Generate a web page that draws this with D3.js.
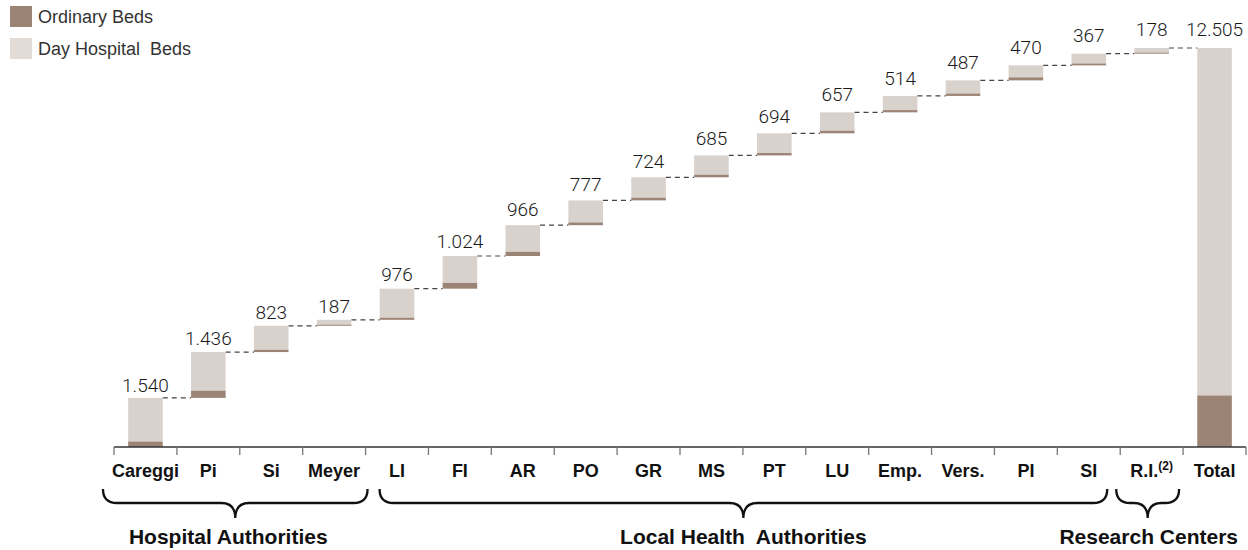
<!DOCTYPE html>
<html><head><meta charset="utf-8">
<script src="https://cdn.jsdelivr.net/npm/d3@7"></script>
<style>
html,body{margin:0;padding:0;background:#fff;}
svg{display:block;}
</style></head>
<body><svg id="c" width="1248" height="550"></svg>
<script>
const categories = ["Careggi","Pi","Si","Meyer","LI","FI","AR","PO","GR","MS","PT","LU","Emp.","Vers.","PI","SI","R.I.","Total"];
const totalLabels = ["1.540","1.436","823","187","976","1.024","966","777","724","685","694","657","514","487","470","367","178","12.505"];
const totalValues = [1540,1436,823,187,976,1024,966,777,724,685,694,657,514,487,470,367,178];
const ordinaryValues = [170,225,70,35,65,180,130,85,85,80,75,80,70,75,95,60,35];
const groups = [
  {name:"Hospital Authorities", from:0, to:3},
  {name:"Local Health  Authorities", from:4, to:15},
  {name:"Research Centers", from:16, to:16}
];
const legendItems = ["Ordinary Beds","Day Hospital  Beds"];
const colDark = "#9b8475", colLight = "#d9d1cc";

const svg = d3.select("#c");
const grandTotal = d3.sum(totalValues);
const x = d3.scaleBand().domain(categories).range([114,1246]).padding(0);
const y = d3.scaleLinear().domain([0,grandTotal]).range([447,48]);
const yl = d3.scaleLinear().domain([0,grandTotal]).range([442,36]);
const bw = x.bandwidth()*0.55, off = x.bandwidth()*0.225;

let cum = 0;
const rows = totalValues.map((v,i)=>{
  const r = {cat:categories[i], start:cum, end:cum+v, ord:ordinaryValues[i], label:totalLabels[i]};
  cum += v; return r;
});
rows.push({cat:"Total", start:0, end:grandTotal, ord:d3.sum(ordinaryValues), label:totalLabels[17]});

const conn = svg.append("g");
rows.forEach((r,i)=>{
  if(i===rows.length-1) return;
  const nx = x(rows[i+1].cat)+off;
  conn.append("line").attr("x1",x(r.cat)+off+bw).attr("x2",nx)
    .attr("y1",y(r.end)).attr("y2",y(r.end))
    .attr("stroke","#444").attr("stroke-width",1.2).attr("stroke-dasharray","5,4");
});

const g = svg.append("g");
rows.forEach(r=>{
  const bx = x(r.cat)+off;
  g.append("rect").attr("x",bx).attr("width",bw)
    .attr("y",y(r.end)).attr("height",y(r.start+r.ord)-y(r.end)).attr("fill",colLight);
  g.append("rect").attr("x",bx).attr("width",bw)
    .attr("y",y(r.start+r.ord)).attr("height",y(r.start)-y(r.start+r.ord)).attr("fill",colDark);
  g.append("text").attr("x",bx+bw/2).attr("y",yl(r.end)).attr("text-anchor","middle")
    .attr("font-family","Roboto, 'Liberation Sans', sans-serif").attr("font-weight",300)
    .attr("font-size",19).attr("fill","#1a1a1a").text(r.label);
});

const ax = svg.append("g");
ax.append("line").attr("x1",114).attr("x2",1246).attr("y1",447).attr("y2",447).attr("stroke","#333").attr("stroke-width",1.5);
const tickXs = categories.map(c=>x(c)).concat([x.range()[1]]);
tickXs.forEach(t=>{
  ax.append("line").attr("x1",t).attr("x2",t).attr("y1",447).attr("y2",455).attr("stroke","#777").attr("stroke-width",1.3);
});
categories.forEach(c=>{
  const t = ax.append("text").attr("x",x(c)+x.bandwidth()/2).attr("y",477).attr("text-anchor","middle")
    .attr("font-family","'Liberation Sans', Arial, sans-serif").attr("font-weight","bold")
    .attr("font-size",18).attr("fill","#111");
  if(c==="R.I."){
    t.append("tspan").text("R.I.");
    t.append("tspan").attr("font-size",12).attr("dy",-7).text("(2)");
  } else t.text(c);
});

function brace(x1,x2,cx,yTop,yMid,yTip){
  const r=14;
  return `M${x1},${yTop} Q${x1},${yMid} ${x1+r},${yMid} L${cx-r},${yMid} Q${cx},${yMid} ${cx},${yTip} Q${cx},${yMid} ${cx+r},${yMid} L${x2-r},${yMid} Q${x2},${yMid} ${x2},${yTop}`;
}
const bg = svg.append("g");
groups.forEach((gr,i)=>{
  const x1 = x(categories[gr.from]) + (i===0?-11:(i===1?14:-4));
  const x2 = x(categories[gr.to]) + x.bandwidth() + (i===0?2:(i===1?-13:-4));
  const cx = (x1+x2)/2;
  bg.append("path").attr("d",brace(x1,x2,cx,489,503,518)).attr("fill","none")
    .attr("stroke","#111").attr("stroke-width",2.3);
  const tx = i===2 ? 1238 : (i===0 ? cx-7 : cx);
  bg.append("text").attr("x",tx).attr("y",544).attr("text-anchor",i===2?"end":"middle")
    .attr("font-family","'Liberation Sans', Arial, sans-serif").attr("font-weight","bold")
    .attr("font-size",21).attr("fill","#111").style("white-space","pre").text(gr.name);
});

const lg = svg.append("g");
legendItems.forEach((l,i)=>{
  lg.append("rect").attr("x",10).attr("y",6+i*32).attr("width",22).attr("height",21)
    .attr("fill", i===0?colDark:"#e2dbd6");
  lg.append("text").attr("x",38).attr("y",23+i*32).attr("font-family","'Liberation Sans', Arial, sans-serif")
    .attr("font-size",18).attr("fill","#333").style("white-space","pre").text(l);
});
</script></body></html>
